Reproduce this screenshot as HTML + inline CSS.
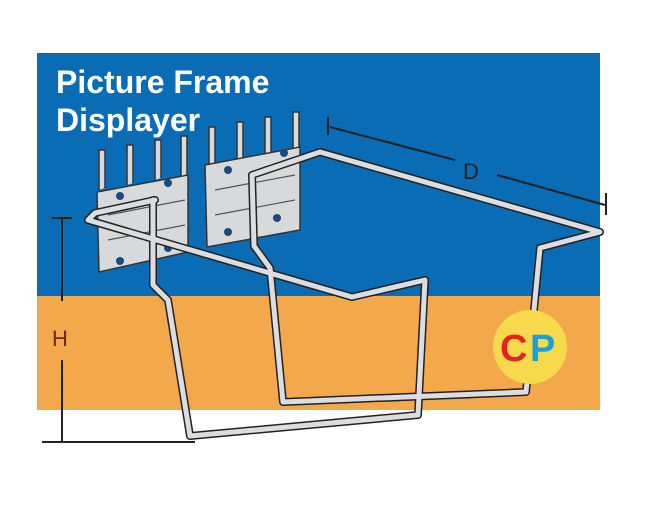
<!DOCTYPE html>
<html><head><meta charset="utf-8"><style>
html,body{margin:0;padding:0;background:#fff;}
svg{display:block;}
</style></head><body>
<svg width="650" height="516" viewBox="0 0 650 516" xmlns="http://www.w3.org/2000/svg">
<rect x="37" y="53" width="563" height="243" fill="#0a6cb5"/>
<rect x="37" y="296" width="563" height="114" fill="#f3a94b"/>
<text x="56" y="93" font-family="Liberation Sans, sans-serif" font-weight="bold" font-size="32" fill="#fff">Picture Frame</text>
<text x="56" y="131" font-family="Liberation Sans, sans-serif" font-weight="bold" font-size="32" fill="#fff">Displayer</text>

<g stroke="#333" stroke-width="1.5" fill="#d8d9db">
<path d="M209 165 v-38 h6 v36 M237 160 v-38 h6 v36 M265 155 v-38 h6 v36 M293 150 v-38 h6 v36" fill="#d8d9db"/>
<polygon points="205,165 300,147 300,230 207,247"/>
<polygon points="97,192 188,175 188,252 99,272"/>
<path d="M99 190 v-40 h6 v38 M127 185 v-40 h6 v38 M155 180 v-40 h6 v38 M181 176 v-40 h6 v38"/>
</g>
<g fill="#1c4a78">
<circle cx="228" cy="170" r="4"/><circle cx="284" cy="153" r="4"/><circle cx="228" cy="232" r="4"/><circle cx="277" cy="218" r="4"/>
<circle cx="120" cy="196" r="4"/><circle cx="168" cy="183" r="4"/><circle cx="120" cy="261" r="4"/><circle cx="168" cy="248" r="4"/>
</g>
<g stroke="#555" stroke-width="1.2" fill="none">
<path d="M215 190 L295 175 M215 215 L295 200 M108 215 L185 200 M108 240 L185 225"/>
</g>

<g fill="none" stroke-linejoin="round" stroke-linecap="round">
<g stroke="#222" stroke-width="8">
<path d="M252 175 L320 152 L600 232 L540 248 L526 392 L283 402 L270 268 L254 246 L252 175"/>
<path d="M155 200 L95 213 L88 220 L352 297 L425 280 L418 415 L190 436 L168 300 L153 285 L153 200"/>
</g>
<g stroke="#dcdde0" stroke-width="5">
<path d="M252 175 L320 152 L600 232 L540 248 L526 392 L283 402 L270 268 L254 246 L252 175"/>
<path d="M155 200 L95 213 L88 220 L352 297 L425 280 L418 415 L190 436 L168 300 L153 285 L153 200"/>
</g>
</g>

<g stroke="#222" stroke-width="2" fill="none">
<path d="M328 117 v18 M330 127 L455 160 M497 175 L605 205 M606 193 v22"/>
<path d="M52 218 h20 M62 218 v83 M62 360 v82 M42 442 h153"/>
</g>
<text x="463" y="179" font-family="Liberation Sans, sans-serif" font-size="22" fill="#222">D</text>
<text x="52" y="346" font-family="Liberation Sans, sans-serif" font-size="22" fill="#6b2a14">H</text>

<circle cx="530" cy="347" r="37" fill="#f7d94c"/>
<text x="500" y="361" font-family="Liberation Sans, sans-serif" font-weight="bold" font-size="38" fill="#e52421">C</text>
<text x="530" y="361" font-family="Liberation Sans, sans-serif" font-weight="bold" font-size="38" fill="#1aa0dc">P</text>
</svg>
</body></html>
